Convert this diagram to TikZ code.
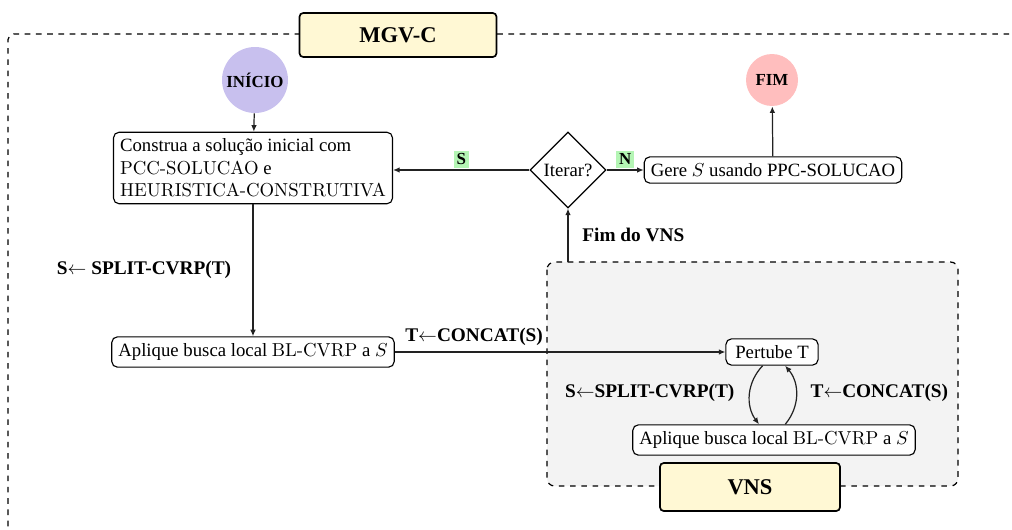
\documentclass[tikz,border=0pt]{standalone}
\usepackage{fontspec}
\setmainfont{Liberation Serif}
\newfontfamily\cmfont{Latin Modern Roman}
\usetikzlibrary{arrows.meta,shapes.geometric}
\definecolor{yel}{HTML}{FFF8D4}
\definecolor{lav}{HTML}{C8C0EE}
\definecolor{pinkf}{HTML}{FFBEBE}
\definecolor{grn}{HTML}{B4F5B4}
\definecolor{vnsbg}{HTML}{F3F3F3}
\definecolor{ln}{HTML}{222222}
\begin{document}
\begin{tikzpicture}[x=0.5333pt,y=-0.5333pt,
  box/.style={draw,rounded corners=3pt,fill=white,inner xsep=3.5pt,inner ysep=3.5pt,line width=0.6pt},
  title/.style={draw,rounded corners=2pt,fill=yel,line width=0.9pt,font=\bfseries\large},
  arr/.style={draw=ln,line width=0.65pt,-{Latex[length=3.5pt,width=3pt]}},
  lbl/.style={font=\bfseries\fontsize{10.3}{12}\selectfont},
  yn/.style={font=\bfseries\small,fill=grn,inner sep=1.5pt},
  dsh/.style={draw=black,dashed,line width=0.65pt}]
\useasboundingbox (0,0) rectangle (1012,530);
% outer dashed box
\draw[dsh,rounded corners=3pt] (8,560) -- (8,34) -- (1040,34);
\node[title,minimum width={197*0.5333pt},minimum height={44*0.5333pt}] (mgv) at (398,35) {MGV-C};
% VNS region
\draw[dsh,rounded corners=4pt,fill=vnsbg] (547,262) rectangle (958,486);
\node[title,minimum width={180*0.5333pt},minimum height={48*0.5333pt}] (vns) at (750,487) {VNS};
% start / end
\node[circle,fill=lav,minimum size={66*0.5333pt},inner sep=0pt,font=\bfseries\small] (ini) at (255,80) {INÍCIO};
\node[circle,fill=pinkf,minimum size={52*0.5333pt},inner sep=0pt,font=\bfseries\small] (fim) at (772,80) {FIM};
% boxes
\node[box,align=left] (cons) at (253,168) {Construa a solução inicial com\\{\cmfont PCC-SOLUCAO} e\\{\cmfont HEURISTICA-CONSTRUTIVA}};
\node[draw,diamond,aspect=1,minimum width={76*0.5333pt},minimum height={76*0.5333pt},inner sep=0pt,fill=white,line width=0.6pt] (it) at (568,170) {Iterar?};
\node[box] (gere) at (773,170) {Gere $S$ usando PPC-SOLUCAO};
\node[box] (apl) at (253,352) {Aplique busca local {\cmfont BL-CVRP} a $S$};
\node[box,inner xsep=5pt] (pert) at (772,352) {Pertube T};
\node[box] (apl2) at (774,440) {Aplique busca local {\cmfont BL-CVRP} a $S$};
% connectors
\draw[arr] (ini) -- (cons);
\draw[arr] (it) -- (cons.east |- it) node[yn,pos=0.5,above=1pt] (ls) {S};
\draw[arr] (it) -- (gere) node[yn,pos=0.5,above=1pt] (ln) {N};
\draw[arr] (gere) -- (fim);
\draw[arr] (cons) -- (apl) node[lbl,pos=0.5,left=8pt] (l1) {S$\leftarrow$ SPLIT-CVRP(T)};
\draw[arr] (apl) -- (pert) node[lbl,pos=0.24,above=0pt] (l2) {T$\leftarrow$CONCAT(S)};
\coordinate (vtop) at (568,262);
\draw[arr] (vtop) -- (it.south) node[lbl,pos=0.5,right=4pt] (l3) {Fim do VNS};
\draw[arr] ([xshift=-5pt]pert.south) to[bend right=40] ([xshift=-8pt]apl2.north) ;
\draw[arr] ([xshift=6pt]apl2.north) to[bend right=40] ([xshift=7pt]pert.south);
\node[lbl,anchor=east] (l4) at (741,393) {S$\leftarrow$SPLIT-CVRP(T)};
\node[lbl,anchor=west] (l5) at (804,393) {T$\leftarrow$CONCAT(S)};
\end{tikzpicture}
\end{document}
